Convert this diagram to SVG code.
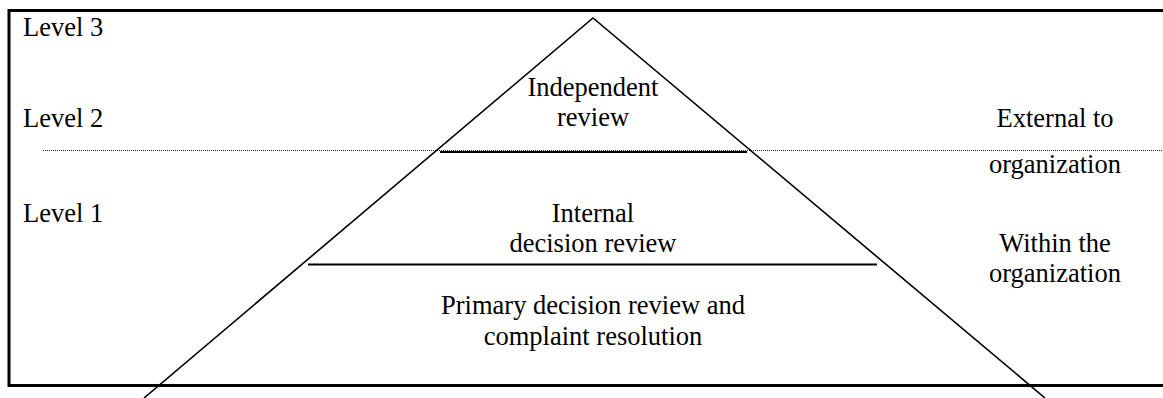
<svg xmlns="http://www.w3.org/2000/svg" width="1163" height="398" viewBox="0 0 1163 398" font-family="'Liberation Serif', 'Times New Roman', Tinos, 'DejaVu Serif', serif">
  <style>
    text { font-family: "Liberation Serif", "Times New Roman", Tinos, "DejaVu Serif", serif; font-size: 26.5px; fill: #000; }
    .mid { text-anchor: middle; }
    .frame { fill: none; stroke: #000; stroke-width: 3; }
    .edge { fill: none; stroke: #000; stroke-width: 1.6; stroke-linejoin: miter; }
    .tier { stroke: #000; stroke-width: 2; }
    .divider { stroke: #333; stroke-width: 1; stroke-dasharray: 1 1; }
  </style>
  <rect width="1163" height="398" fill="#fff"/>

  <!-- open frame: top, left and bottom rules -->
  <path class="frame" d="M1163,10.5 H9 V385.5 H1163"/>

  <!-- boundary between internal and external review -->
  <line class="divider" x1="43" y1="150.5" x2="1163" y2="150.5"/>

  <g id="connectors">
    <!-- pyramid sides -->
    <polyline class="edge" points="144,398 593,18 1045,398"/>
    <!-- tier separators -->
    <line class="tier" x1="440" y1="152" x2="747" y2="152"/>
    <line class="tier" x1="308" y1="264.5" x2="877" y2="264.5"/>
  </g>

  <g id="level-labels">
    <text x="23" y="36">Level 3</text>
    <text x="23" y="127">Level 2</text>
    <text x="23" y="222">Level 1</text>
  </g>

  <g id="tier-independent">
    <text class="mid" x="593" y="96">Independent</text>
    <text class="mid" x="593" y="126">review</text>
  </g>

  <g id="tier-internal">
    <text class="mid" x="593" y="222">Internal</text>
    <text class="mid" x="593" y="252">decision review</text>
  </g>

  <g id="tier-primary">
    <text class="mid" x="593" y="314">Primary decision review and</text>
    <text class="mid" x="593" y="345">complaint resolution</text>
  </g>

  <g id="scope-external">
    <text class="mid" x="1055" y="127">External to</text>
    <text class="mid" x="1055" y="173">organization</text>
  </g>

  <g id="scope-internal">
    <text class="mid" x="1055" y="252">Within the</text>
    <text class="mid" x="1055" y="282">organization</text>
  </g>
</svg>
